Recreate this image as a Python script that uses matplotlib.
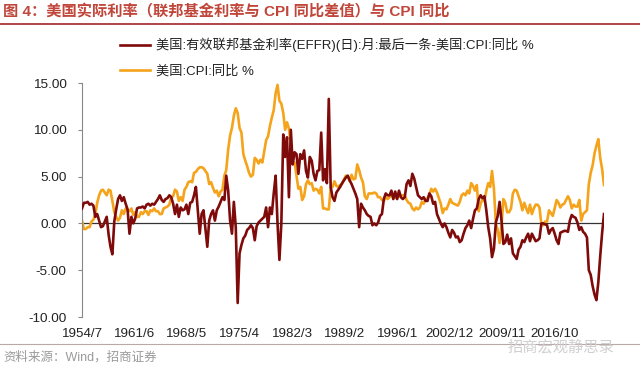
import numpy as np
import pandas as pd
import matplotlib
matplotlib.use('Agg')
import matplotlib.pyplot as plt
from matplotlib.lines import Line2D

plt.rcParams['font.family'] = ['Liberation Sans', 'Noto Sans CJK SC']

# quarterly readings (Jan/Apr/Jul/Oct), 1954/7 .. 2023/4
cpi = [
    0.3, -0.6,                      # 1954
    -0.6, -0.4, -0.4, 0.2,          # 1955
    0.4, 1.0, 2.2, 3.0,
    3.5, 3.6, 3.3, 3.0,
    3.6, 3.5, 2.4, 1.2,
    0.7, 0.3, 0.6, 1.4,
    1.0, 1.6, 1.4, 1.3,             # 1960
    1.6, 0.9, 1.2, 0.7,
    0.7, 1.2, 1.0, 1.3,
    1.3, 0.9, 1.4, 1.3,
    1.6, 1.3, 1.3, 1.0,
    1.0, 1.6, 1.7, 1.8,             # 1965
    2.0, 2.8, 2.9, 3.6,
    3.4, 2.4, 2.8, 2.4,
    3.6, 3.9, 4.4, 4.5,
    4.4, 5.4, 5.5, 5.8,
    6.0, 6.0, 5.9, 5.6,             # 1970
    5.3, 4.2, 4.4, 3.8,
    3.3, 3.5, 2.9, 3.4,
    3.6, 5.1, 5.7, 7.9,
    9.4, 10.2, 11.5, 12.3,
    11.8, 10.2, 9.7, 7.4,           # 1975
    6.7, 6.1, 5.4, 5.0,
    5.2, 7.0, 6.8, 6.4,
    6.8, 6.5, 7.7, 8.9,
    9.3, 10.4, 11.3, 12.1,
    13.9, 14.8, 13.1, 12.8,         # 1980
    11.8, 10.0, 10.8, 10.1,
    8.4, 6.6, 6.5, 5.1,
    3.7, 3.9, 2.5, 2.9,
    4.2, 4.6, 4.2, 4.3,
    3.5, 3.7, 3.6, 3.2,             # 1985
    3.9, 1.6, 1.6, 1.5,
    1.5, 3.8, 3.9, 4.5,
    4.0, 3.9, 4.1, 4.2,
    4.7, 5.1, 5.0, 4.5,
    5.2, 4.7, 4.8, 6.3,             # 1990
    5.7, 4.9, 4.4, 2.9,
    2.6, 3.2, 3.2, 3.2,
    3.3, 3.2, 2.8, 2.8,
    2.5, 2.4, 2.8, 2.6,
    2.8, 3.1, 2.8, 2.8,             # 1995
    2.7, 2.9, 3.0, 3.0,
    3.0, 2.5, 2.2, 2.1,
    1.6, 1.4, 1.7, 1.5,
    1.7, 2.3, 2.1, 2.6,
    2.7, 3.1, 3.7, 3.4,             # 2000
    3.7, 3.3, 2.7, 2.1,
    1.1, 1.6, 1.5, 2.0,
    2.6, 2.2, 2.1, 2.0,
    1.9, 2.3, 3.0, 3.2,
    3.0, 3.5, 3.2, 4.3,             # 2005
    4.0, 3.5, 4.1, 1.3,
    2.1, 2.6, 2.4, 3.5,
    4.3, 3.9, 5.6, 3.7,
    0.0, -0.7, -2.1, -0.2,
    2.6, 2.2, 1.2, 1.2,             # 2010
    1.6, 3.2, 3.6, 3.5,
    2.9, 2.3, 1.4, 2.2,
    1.6, 1.1, 2.0, 1.0,
    1.6, 2.0, 2.0, 1.7,
    -0.1, -0.2, 0.2, 0.2,           # 2015
    1.4, 1.1, 0.8, 1.6,
    2.5, 2.2, 1.7, 2.0,
    2.1, 2.5, 2.9, 2.5,
    1.6, 2.0, 1.8, 1.8,
    2.5, 0.3, 1.0, 1.2,             # 2020
    1.4, 4.2, 5.4, 6.2,
    7.5, 8.3, 9.0, 7.0,
    5.8, 4.1,                       # 2023
]

real_rate = [
    1.6, 2.2,                       # 1954
    2.2, 2.3, 2.0, 2.1,             # 1955
    1.9, 0.7, 1.0, 0.3,
    -0.4, -0.3, 0.2, 0.7,
    -1.2, -2.5, -3.3, 0.2,
    1.5, 2.6, 3.0, 2.4,
    2.8, 2.1, 1.5, -1.1,            # 1960
    0.7, 0.0, 0.5, 1.6,
    1.7, 1.7, 1.8, 1.6,
    2.0, 2.1, 1.9, 2.1,
    2.0, 2.3, 2.6, 3.0,
    2.5, 2.3, 2.6, 2.7,             # 1965
    3.0, 2.8, 2.1, 1.0,
    2.0, 0.7, 1.7, 1.4,
    1.5, 2.0, 1.0, 2.2,
    2.3, 3.0, 3.9, 1.4,
    -1.1, 1.0, 1.4, -0.5,           # 1970
    -2.5, 0.3, 1.0, 1.4,
    0.3, 1.4, 1.8, 2.3,
    2.8, 2.5, 5.1, 3.5,
    0.3, -1.1, 2.3, -0.4,
    -8.5, -3.2, -2.3, -1.6,         # 1975
    -1.3, -0.7, -0.5, -0.2,
    -0.5, -1.8, -0.3, 0.1,
    0.3, 0.5, 0.7, 1.7,
    -0.4, 1.7, 1.0, 3.2,
    5.1, 0.0, -3.9, 0.0,            # 1980
    9.5, 7.1, 9.2, 2.8,
    10.0, 6.3, 7.6, 7.4,
    5.3, 7.4, 6.9, 7.8,
    5.6, 4.9, 7.1, 6.7,
    5.3, 4.6, 5.6, 5.7,             # 1985
    9.7, 4.6, 5.8, 4.3,
    13.3, 3.9, 2.8, 2.4,
    3.3, 3.6, 3.9, 4.3,
    4.6, 4.9, 5.1, 4.6,
    4.2, 3.7, 3.2, 2.6,             # 1990
    -0.4, 2.1, 1.7, 1.4,
    1.0, 0.8, 0.7, -0.2,
    0.0, -0.2, 0.1, 0.8,
    1.0, 2.6, 3.2, 3.0,
    3.0, 3.5, 2.6, 3.4,             # 1995
    2.6, 3.5, 2.8, 2.6,
    2.8, 4.2, 4.6, 4.0,
    5.3, 4.8, 3.9, 3.0,
    2.8, 2.6, 2.8, 2.4,
    2.4, 3.2, 2.9, 2.1,             # 2000
    2.3, 1.0, 0.5, 0.0,
    -0.4, 0.0, -0.4, -1.0,
    -1.5, -0.7, -1.0, -1.5,
    -1.4, -2.0, -1.8, -1.1,
    -0.5, -0.2, 0.3, -0.5,          # 2005
    0.5, 1.4, 1.6, 2.6,
    3.0, 2.7, 2.9, 1.4,
    -0.4, -1.6, -3.6, -2.7,
    0.1, 0.8, 2.3, 0.3,
    -2.2, -2.0, -1.2, -2.2,         # 2010
    -1.6, -3.2, -3.5, -3.8,
    -2.8, -2.5, -1.8, -2.0,
    -1.5, -1.1, -1.9, -1.1,
    -1.5, -1.9, -1.8, -1.6,
    0.0, 0.0, -0.1, -0.2,           # 2015
    -1.1, -0.7, -0.5, -1.1,
    -1.8, -2.2, -1.0, -0.9,
    -0.8, -0.8, -0.9, 0.3,
    0.9, 0.7, 0.6, 0.1,
    -0.7, -0.4, -0.9, -1.1,         # 2020
    -1.5, -5.0, -5.5, -6.7,
    -7.6, -8.2, -6.3, -3.5,
    -1.0, 1.0,                      # 2023
]

dates = pd.date_range('1954-07-01', periods=len(cpi), freq='3MS')

tick_dates = pd.to_datetime(['1954-07-01', '1961-06-01', '1968-05-01', '1975-04-01',
                             '1982-03-01', '1989-02-01', '1996-01-01', '2002-12-01',
                             '2009-11-01', '2016-10-01'])
tick_labels = ['1954/7', '1961/6', '1968/5', '1975/4', '1982/3',
               '1989/2', '1996/1', '2002/12', '2009/11', '2016/10']
y_ticks = [-10, -5, 0, 5, 10, 15]

red = '#7f0a0a'
orange = '#f5a31a'

fig = plt.figure(figsize=(6.4, 3.74), dpi=100)
ax = fig.add_axes([82 / 640, 57 / 374, 522 / 640, 234 / 374])

ax.plot(dates, real_rate, color=red, lw=1.9, zorder=3)
ax.plot(dates, cpi, color=orange, lw=1.9, zorder=2)
ax.axhline(0, color='#333333', lw=0.9, zorder=1)

ax.set_ylim(-10, 15)
ax.set_yticks(y_ticks)
ax.set_yticklabels(['%.2f' % v for v in y_ticks])
ax.set_xlim(dates[0], dates[-1])
ax.set_xticks(tick_dates)
ax.set_xticklabels(tick_labels)

for s in ['top', 'right', 'bottom']:
    ax.spines[s].set_visible(False)
ax.spines['left'].set_color('#888888')
ax.spines['left'].set_linewidth(0.8)
ax.tick_params(axis='y', length=3, width=0.8, color='#888888', pad=8,
               labelsize=9.7, labelcolor='#222222')
ax.tick_params(axis='x', length=0, pad=8, labelsize=9.6, labelcolor='#222222')

handles = [Line2D([], [], color=red, lw=1.9), Line2D([], [], color=orange, lw=1.9)]
labels = ['美国:有效联邦基金利率(EFFR)(日):月:最后一条-美国:CPI:同比 %', '美国:CPI:同比 %']
fig.legend(handles, labels, loc='upper left', bbox_to_anchor=(108 / 640, 1 - 26 / 374),
           frameon=False, fontsize=9.5, handlelength=2.3, handletextpad=0.4,
           labelspacing=0.95, labelcolor='#222222')

# header / footer
fig.text(3 / 640, 1 - 12 / 374, '图 4：美国实际利率（联邦基金利率与 CPI 同比差值）与 CPI 同比',
         fontsize=11, fontweight='bold', color='#c0463a', va='center', ha='left')
fig.add_artist(Line2D([0, 1], [1 - 24 / 374, 1 - 24 / 374], color='#a3262a', lw=1.2))
fig.add_artist(Line2D([0, 1], [1 - 344 / 374, 1 - 344 / 374], color='#b9a8a8', lw=0.8))
fig.text(3 / 640, 1 - 357 / 374, '资料来源：Wind，招商证券', fontsize=9,
         color='#9a9a9a', va='center', ha='left')
fig.text(614 / 640, 1 - 347 / 374, '招商宏观静思录', fontsize=11,
         color='#d0d0d0', va='center', ha='right')

fig.savefig('out.png', dpi=100)
